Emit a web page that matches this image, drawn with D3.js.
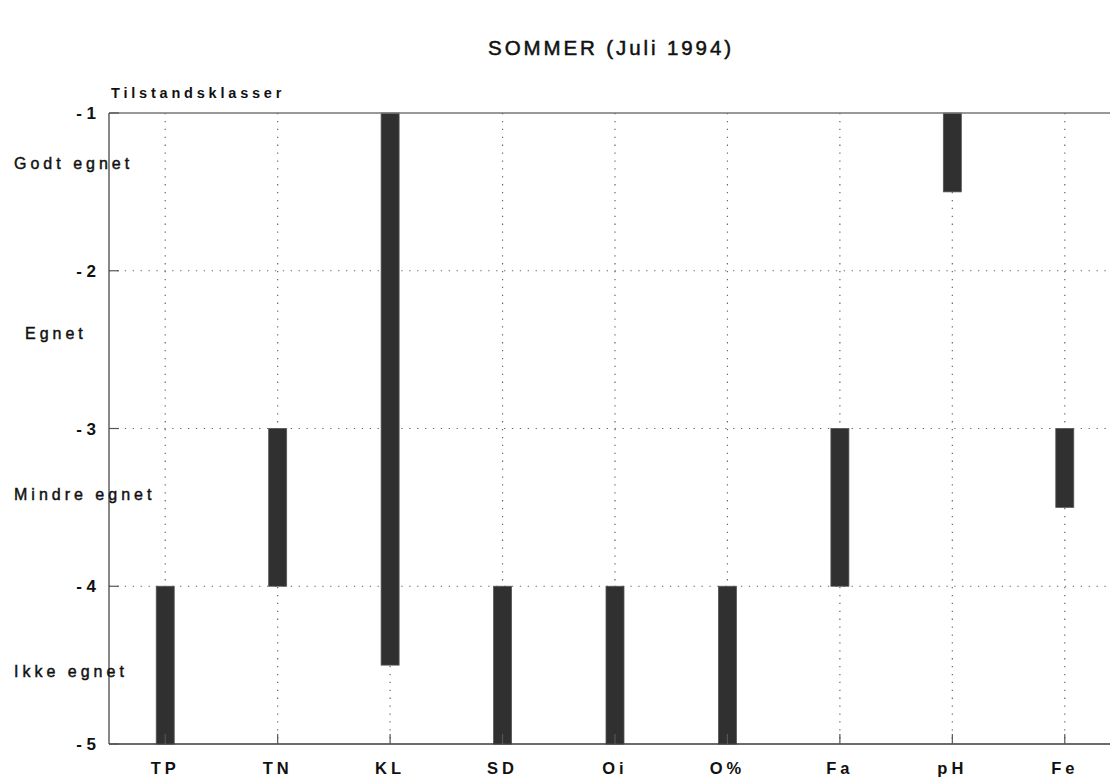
<!DOCTYPE html>
<html>
<head>
<meta charset="utf-8">
<script src="https://cdn.jsdelivr.net/npm/d3@7"></script>
<style>
  html, body { margin: 0; padding: 0; background: #fff; }
  svg { display: block; font-family: "Liberation Sans", Arial, Helvetica, sans-serif; }
</style>
</head>
<body>
<svg id="chart" width="1110" height="779"></svg>
<script>
// ---- data ----
const categories = ["TP", "TN", "KL", "SD", "Oi", "O%", "Fa", "pH", "Fe"];
const barTop    = [-4, -3, -1, -4, -4, -4, -3, -1, -3];
const barBottom = [-5, -4, -4.5, -5, -5, -5, -4, -1.5, -3.5];
const yTicks = [-1, -2, -3, -4, -5];
const yTickLabels = ["- 1", "- 2", "- 3", "- 4", "- 5"];
const classLabels = ["Godt egnet", "Egnet", "Mindre egnet", "Ikke egnet"];
const classLevels = [-1.33, -2.41, -3.43, -4.55];
const title = "SOMMER (Juli 1994)";
const yAxisTitle = "Tilstandsklasser";

// ---- layout ----
const svg = d3.select("#chart");
const mLeft = 109, mRight = 1121, mTop = 113, mBottom = 744, edge = 1110;

const x = d3.scaleBand().domain(categories).range([mLeft, mRight]).padding(0);
const y = d3.scaleLinear().domain([-1, -5]).range([mTop, mBottom]);
const cx = c => x(c) + x.bandwidth() / 2;

const grid = "#666";
const axisCol = "#3a3a3a";

// vertical dotted grid lines
svg.append("g").selectAll("line").data(categories).join("line")
  .attr("x1", cx).attr("x2", cx)
  .attr("y1", mTop).attr("y2", mBottom)
  .attr("stroke", grid).attr("stroke-width", 1.2)
  .attr("stroke-dasharray", "1.3,6.6");

// horizontal dotted grid lines
svg.append("g").selectAll("line").data(yTicks.filter(t => t !== -1 && t !== -5)).join("line")
  .attr("x1", mLeft).attr("x2", edge)
  .attr("y1", d => y(d)).attr("y2", d => y(d))
  .attr("stroke", grid).attr("stroke-width", 1.2)
  .attr("stroke-dasharray", "1.3,6.6");

// bars
const barData = categories.map((c, i) => ({c, t: barTop[i], b: barBottom[i]}));
svg.append("g").selectAll("rect").data(barData).join("rect")
  .attr("x", d => cx(d.c) - 9)
  .attr("width", 18)
  .attr("y", d => y(d.t))
  .attr("height", d => y(d.b) - y(d.t))
  .attr("fill", "#303030")
  .attr("stroke", "#555").attr("stroke-width", 0.8);

// axes frame (top, left, bottom)
const frame = svg.append("g").attr("stroke", axisCol).attr("stroke-width", 1.4).attr("fill", "none");
frame.append("line").attr("x1", mLeft).attr("x2", edge).attr("y1", mTop).attr("y2", mTop).attr("stroke", "#777");
frame.append("line").attr("x1", mLeft).attr("x2", mLeft).attr("y1", mTop).attr("y2", mBottom).attr("stroke", "#555");
frame.append("line").attr("x1", mLeft).attr("x2", edge).attr("y1", mBottom).attr("y2", mBottom);

// inward ticks
svg.append("g").selectAll("line").data(categories).join("line")
  .attr("x1", cx).attr("x2", cx)
  .attr("y1", mBottom).attr("y2", mBottom - 10)
  .attr("stroke", "#555").attr("stroke-width", 1.2);
svg.append("g").selectAll("line").data(yTicks).join("line")
  .attr("x1", mLeft).attr("x2", mLeft + 10)
  .attr("y1", d => y(d)).attr("y2", d => y(d))
  .attr("stroke", "#555").attr("stroke-width", 1.2);

// y tick labels
svg.append("g").selectAll("text").data(yTicks).join("text")
  .attr("x", 96).attr("y", d => y(d))
  .attr("dy", "0.36em")
  .attr("text-anchor", "end")
  .attr("font-size", 17).attr("font-weight", "bold")
  .attr("fill", "#111")
  .text((d, i) => yTickLabels[i]);

// class labels
svg.append("g").selectAll("text").data(classLabels).join("text")
  .attr("x", (d, i) => d === "Egnet" ? 25 : 14)
  .attr("y", (d, i) => y(classLevels[i]))
  .attr("dy", "0.25em")
  .attr("font-size", 16)
  .attr("letter-spacing", 4)
  .attr("fill", "#111")
  .attr("stroke", "#111").attr("stroke-width", 0.45)
  .text(d => d);

// x labels
svg.append("g").selectAll("text").data(categories).join("text")
  .attr("x", cx).attr("y", 774)
  .attr("text-anchor", "middle")
  .attr("font-size", 16.5).attr("font-weight", "bold")
  .attr("letter-spacing", 4)
  .attr("fill", "#111")
  .text(d => d);

// y axis title
svg.append("text")
  .attr("x", 111).attr("y", 98)
  .attr("font-size", 14.5).attr("font-weight", "bold")
  .attr("letter-spacing", 3.8)
  .attr("fill", "#111")
  .text(yAxisTitle);

// chart title
svg.append("text")
  .attr("x", 611).attr("y", 55)
  .attr("text-anchor", "middle")
  .attr("font-size", 20.5)
  .attr("letter-spacing", 2.9)
  .attr("fill", "#111")
  .attr("stroke", "#111").attr("stroke-width", 0.5)
  .text(title);
</script>
</body>
</html>
